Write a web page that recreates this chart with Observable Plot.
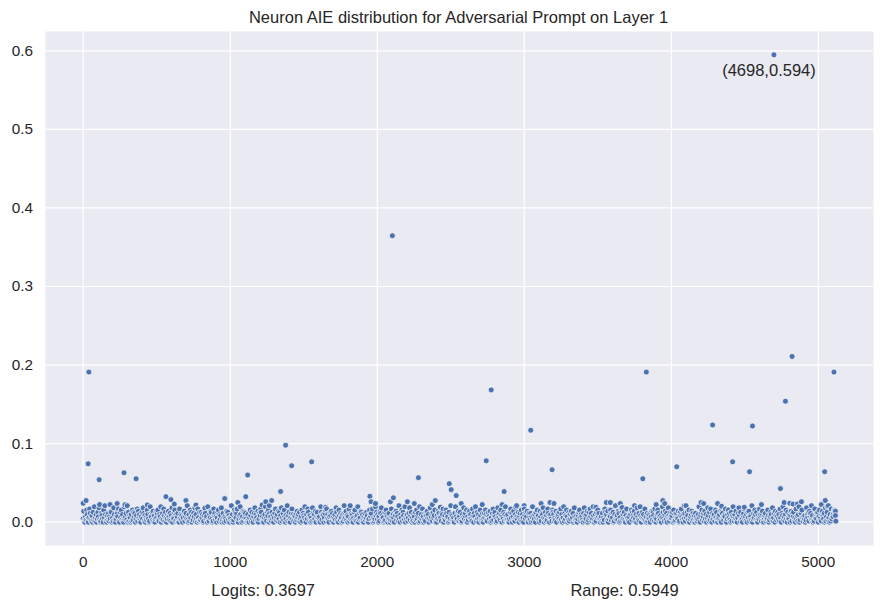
<!DOCTYPE html>
<html><head><meta charset="utf-8">
<script src="https://cdn.jsdelivr.net/npm/d3@7"></script>
<script src="https://cdn.jsdelivr.net/npm/@observablehq/plot@0.6"></script>
<style>
body{margin:0;background:#fff;}
#chart svg{display:block;font-family:"Liberation Sans",Arial,sans-serif;}
</style></head><body><div id="chart"></div>
<script>
const title = "Neuron AIE distribution for Adversarial Prompt on Layer 1";
const xTicks = [0, 1000, 2000, 3000, 4000, 5000];
const yTicks = [0, 0.1, 0.2, 0.3, 0.4, 0.5, 0.6];
const logitsText = "Logits: 0.3697";
const rangeText = "Range: 0.5949";
const maxNeuron = 4698;
const maxValue = 0.5949;
const maxLabel = "(4698,0.594)";

// dense band: one sampled neuron every 4 indices, value code in base 36, unit 0.0014
const bulkStep = 4;
const bulkUnit = 0.0014;
const bulkCodes = [
"3a1052b7204c8316092e1470395d2018630b4f71",
"0628153a9041d7203685c1094b2710e3582f0916",
"4071b2958036c1a4720593d816042b7301e8592a",
"1603948b2175e0382c6194037a52816d0439b172",
"5810c3726049a1583f2071b4906285d1730c4192",
"2947016b8350e2174a9301c6825049b1736d0284",
"0531a8926043f1702b5948c1036e7205a1948301",
"7204b6193058d2741a0386c9251047e3196b0825",
"1936048c2571a3906d1482b5037f1692048c3715",
"6082a4719305b1864e2073c9516041d8273a0594",
"3150e9276048b1c3720596a1840372d9150b6284",
"0718394a2605c1f3827049b2516e0384a9172058",
"2496103b7582c0413e6927051a8d3640192b7503",
"8302c5174096a2851f3074b1962e0537148d2690",
"4175092b3680e1473c5028196a4703d2581946b0",
"1063a8254197c0362b8450913f7261408e5239a1",
"5920174d3681b0529a4731c6085e2193704b6218",
"0384b7216953a0418c2695031d7482b6053917e2",
"6271039c4805a2174f3690582b1740c6395a1084",
"2805e1637094b3620a5187d4039162c8504731b9",
"7142a0586391c2704e1836b5029173a6480d5126",
"0369b4175208d1637a0294c5813e6027194b5830",
"3518042c9671a0365b2849017f3562a8041d9273",
"9206c3415087b2964a1370d5281e6049372c1508",
"1473085a2961c4037b8152604e9317a2805d6149",
"4690b1725843a0196c5207381f4962b0357a1826",
"0825137e4069b2581a3704d6192c5083671b4920",
"5371a0984265c1037b4820916e5173a2048d6193",
"2068c3517094a1652f0384b7291063c5718a2046",
"8134b6025973d1480a6259371c4086e2517b3094",
"3706a1859240c3617e0298b4153602d7491a5832",
"6021c4738905b2417a6380d1592f4071c3658b9a"
].join("");

// individually read neurons above the band
const peakIdx = [0,20,34,39,109,112,183,231,278,285,360,437,563,597,620,699,767,828,963,1052,1106,1119,1217,1242,1266,1282,1343,1377,1418,1554,1649,1775,1950,1958,1988,2090,2103,2110,2205,2252,2280,2374,2395,2429,2490,2503,2537,2571,2714,2741,2775,2849,2863,2942,2999,3044,3114,3175,3189,3202,3487,3558,3585,3653,3666,3750,3806,3830,3897,3942,3955,4037,4089,4202,4220,4281,4315,4342,4417,4496,4532,4552,4613,4698,4742,4767,4776,4806,4821,4828,4858,4885,4953,5020,5043,5047,5061,5106,5112,5116,5119];
const peakVal = [0.024,0.0275,0.0743,0.191,0.054,0.0224,0.0224,0.0237,0.0629,0.0223,0.0553,0.0219,0.0325,0.0287,0.023,0.0275,0.0219,0.018,0.030,0.025,0.0325,0.060,0.0219,0.026,0.021,0.0275,0.039,0.098,0.0718,0.0768,0.019,0.021,0.0329,0.026,0.0237,0.026,0.3646,0.031,0.026,0.0237,0.0566,0.0224,0.0275,0.019,0.049,0.0414,0.0338,0.0237,0.0224,0.0781,0.1684,0.0224,0.0389,0.019,0.021,0.117,0.0237,0.025,0.0667,0.0237,0.019,0.025,0.025,0.0237,0.0186,0.021,0.0553,0.191,0.0224,0.0275,0.0237,0.0705,0.021,0.025,0.0237,0.1237,0.0237,0.0203,0.0768,0.019,0.0642,0.1224,0.0224,0.5949,0.0427,0.025,0.154,0.024,0.211,0.023,0.023,0.026,0.021,0.0224,0.0642,0.0275,0.0199,0.191,0.0147,0.0084,0.0013];

const points = [];
for (let i = 0; i < bulkCodes.length; i++) points.push({neuron: i * bulkStep, aie: parseInt(bulkCodes[i], 36) * bulkUnit});
peakIdx.forEach((n, i) => points.push({neuron: n, aie: peakVal[i]}));
points.sort((a, b) => a.neuron - b.neuron);

const ink = "#262626";
const chart = Plot.plot({
  width: 884, height: 609,
  marginLeft: 45, marginRight: 11, marginTop: 31, marginBottom: 64,
  style: {background: "#fff", fontSize: "15.3px", fontFamily: "'Liberation Sans', Arial, sans-serif"},
  x: {domain: [-256, 5375]},
  y: {domain: [-0.0297, 0.6246]},
  marks: [
    Plot.frame({fill: "#EAEAF2", stroke: null}),
    Plot.gridX(xTicks, {stroke: "#fff", strokeOpacity: 1, strokeWidth: 1.2}),
    Plot.gridY(yTicks, {stroke: "#fff", strokeOpacity: 1, strokeWidth: 1.2}),
    Plot.axisX(xTicks, {tickSize: 0, tickPadding: 11, tickFormat: d3.format("d"), fontSize: 15.3, fill: ink, label: null}),
    Plot.axisY(yTicks, {tickSize: 0, tickPadding: 12.5, tickFormat: d3.format(".1f"), fontSize: 15.3, fill: ink, label: null}),
    Plot.dot(points, {x: "neuron", y: "aie", r: 3, fill: "#4C72B0", stroke: "#fff", strokeWidth: 0.75}),
    Plot.text([maxLabel], {x: () => maxNeuron, y: () => maxValue, text: d => d, dx: -5, dy: 16, fontSize: 16.5, fill: ink}),
    Plot.text([title], {frameAnchor: "top", text: d => d, dx: -1, dy: -8.3, lineAnchor: "bottom", fontSize: 16.5, fill: ink}),
    Plot.text([logitsText], {frameAnchor: "bottom-left", text: d => d, dx: 217.7, dy: 50, textAnchor: "middle", lineAnchor: "bottom", fontSize: 16.5, fill: ink}),
    Plot.text([rangeText], {frameAnchor: "bottom-left", text: d => d, dx: 579, dy: 50, textAnchor: "middle", lineAnchor: "bottom", fontSize: 16.5, fill: ink})
  ]
});
document.getElementById("chart").appendChild(chart);
</script></body></html>
